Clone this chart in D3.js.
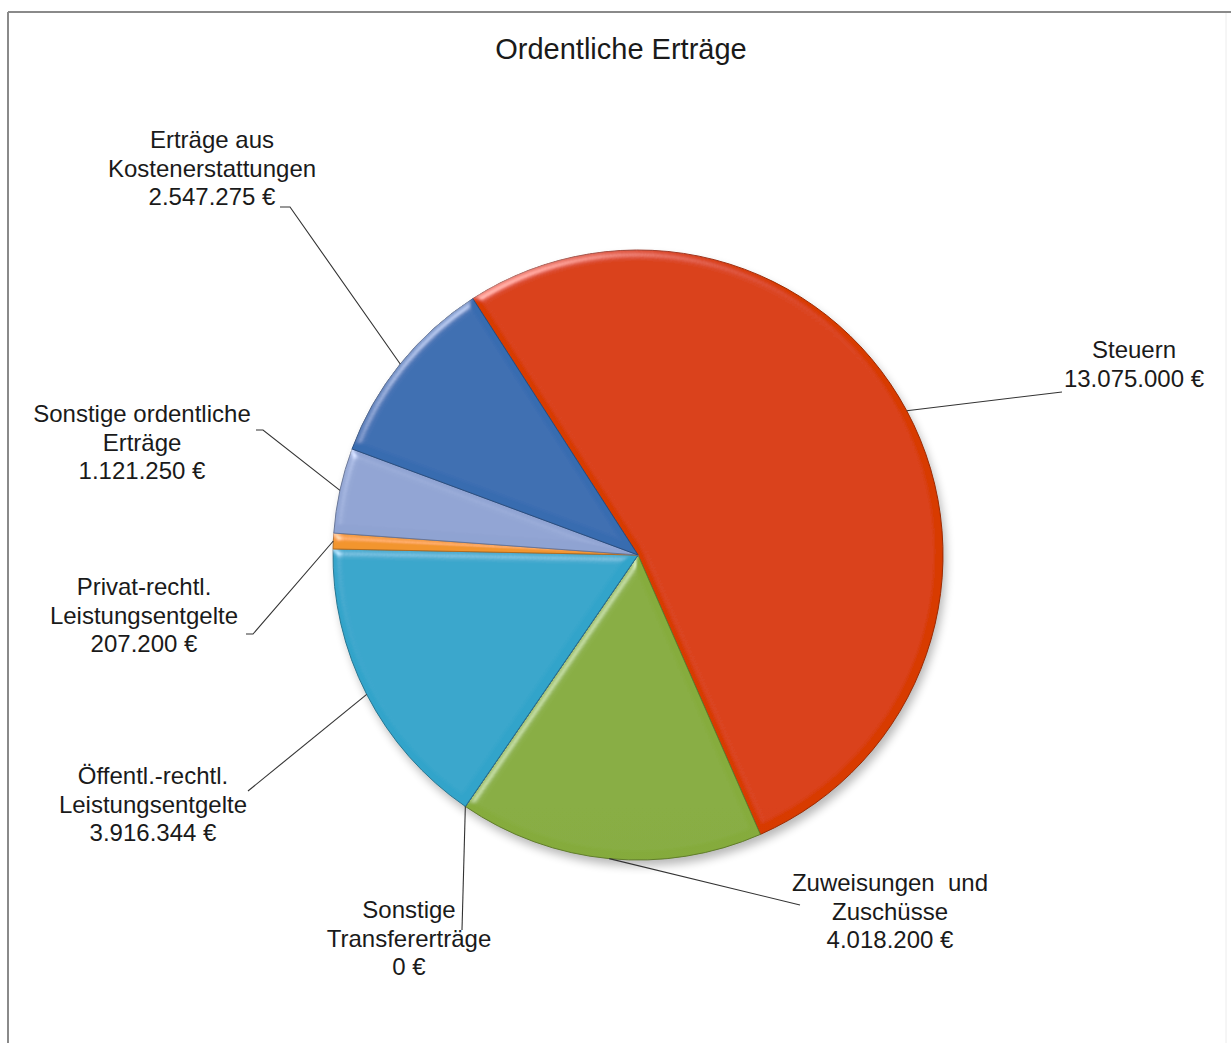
<!DOCTYPE html>
<html>
<head>
<meta charset="utf-8">
<script src="https://cdn.jsdelivr.net/npm/d3@7"></script>
<style>
    body { margin: 0; background: #fff; }
    #chart-area text { font-family: "Liberation Sans", Arial, sans-serif; fill: #1a1a1a; white-space: pre; }
</style>
</head>
<body>
<div id="chart-area"></div>
<script>
// chart values
const title = "Ordentliche Erträge";
const categories = [
    ["Steuern"],
    ["Zuweisungen  und", "Zuschüsse"],
    ["Sonstige", "Transfererträge"],
    ["Öffentl.-rechtl.", "Leistungsentgelte"],
    ["Privat-rechtl.", "Leistungsentgelte"],
    ["Sonstige ordentliche", "Erträge"],
    ["Erträge aus", "Kostenerstattungen"]
];
const values = [13075000, 4018200, 0, 3916344, 207200, 1121250, 2547275];
const colors = ["#d83a05", "#86ac3c", "#4f4fa0", "#33a4ca", "#f2952f", "#8fa3d2", "#386cb0"];

// label layout: text centre x, first baseline y, leader start (x,y), hook length
const labelLayout = [
    {x: 1134, y: 358, lx: 1062, ly: 392, hook: 0},
    {x: 890, y: 891, lx: 800, ly: 905, hook: 0},
    {x: 409, y: 918, lx: 462, ly: 930, hook: 0},
    {x: 153, y: 784, lx: 248, ly: 791, hook: 0},
    {x: 144, y: 595, lx: 246, ly: 634, hook: 7},
    {x: 142, y: 422, lx: 256, ly: 430, hook: 7},
    {x: 212, y: 148, lx: 280, ly: 207, hook: 10}
];

class PieChart {
    constructor(parentElement) {
        this.parentElement = parentElement;
        this.initVis();
    }

    initVis() {
        let vis = this;

        vis.width = 1231;
        vis.height = 1043;
        vis.cx = 638;
        vis.cy = 555;
        vis.radius = 305;

        vis.svg = d3.select("#" + vis.parentElement).append("svg")
            .attr("width", vis.width)
            .attr("height", vis.height);

        let defs = vis.svg.append("defs");

        // bevel look like the office chart
        let bevel = defs.append("filter").attr("id", "bevel")
            .attr("x", "-5%").attr("y", "-5%").attr("width", "110%").attr("height", "110%");
        bevel.append("feGaussianBlur").attr("in", "SourceAlpha").attr("stdDeviation", 4).attr("result", "blur");
        bevel.append("feSpecularLighting").attr("in", "blur").attr("surfaceScale", 4)
            .attr("specularConstant", 0.4).attr("specularExponent", 35)
            .attr("lighting-color", "#ffffff").attr("result", "spec")
            .append("feDistantLight").attr("azimuth", 235).attr("elevation", 40);
        bevel.append("feComposite").attr("in", "spec").attr("in2", "SourceAlpha")
            .attr("operator", "in").attr("result", "specIn");
        bevel.append("feComposite").attr("in", "SourceGraphic").attr("in2", "specIn")
            .attr("operator", "arithmetic").attr("k1", 0).attr("k2", 1).attr("k3", 1).attr("k4", 0);

        let shadow = defs.append("filter").attr("id", "shadow")
            .attr("x", "-10%").attr("y", "-10%").attr("width", "120%").attr("height", "120%");
        shadow.append("feGaussianBlur").attr("stdDeviation", 5);

        // gradients, top colour to a darker bottom
        colors.forEach((c, i) => {
            let g = defs.append("linearGradient").attr("id", "grad" + i)
                .attr("gradientUnits", "userSpaceOnUse")
                .attr("x1", 0).attr("y1", vis.cy - vis.radius)
                .attr("x2", 0).attr("y2", vis.cy + vis.radius);
            g.append("stop").attr("offset", "0%").attr("stop-color", c);
            g.append("stop").attr("offset", "100%").attr("stop-color", d3.color(c).darker(0.3));
        });

        // frame
        vis.svg.append("line").attr("x1", 8).attr("x2", 1231).attr("y1", 12).attr("y2", 12)
            .attr("stroke", "#8a8a8a").attr("stroke-width", 2);
        vis.svg.append("line").attr("x1", 8).attr("x2", 8).attr("y1", 12).attr("y2", vis.height)
            .attr("stroke", "#8a8a8a").attr("stroke-width", 2);
        vis.svg.append("line").attr("x1", 1226).attr("x2", 1226).attr("y1", 13).attr("y2", vis.height)
            .attr("stroke", "#ececec").attr("stroke-width", 1);

        vis.svg.append("text")
            .attr("x", 621)
            .attr("y", 59)
            .attr("text-anchor", "middle")
            .attr("font-size", 29)
            .text(title);

        vis.g = vis.svg.append("g")
            .attr("transform", "translate(" + vis.cx + "," + vis.cy + ")");

        vis.pie = d3.pie()
            .sort(null)
            .value(d => d)
            .startAngle(-32.8 * Math.PI / 180)
            .endAngle(-32.8 * Math.PI / 180 + 2 * Math.PI);

        vis.arc = d3.arc().innerRadius(0).outerRadius(vis.radius);

        vis.fmt = d3.formatLocale({decimal: ",", thousands: ".", grouping: [3], currency: ["", " €"]}).format(",.0f");

        vis.wrangleData();
    }

    wrangleData() {
        let vis = this;
        vis.displayData = vis.pie(values);
        vis.updateVis();
    }

    updateVis() {
        let vis = this;

        vis.g.append("circle")
            .attr("cx", 3).attr("cy", 6).attr("r", vis.radius)
            .attr("fill", "#000").attr("opacity", 0.28)
            .attr("filter", "url(#shadow)");

        vis.g.selectAll(".slice")
            .data(vis.displayData)
            .enter().append("path")
            .attr("class", "slice")
            .attr("d", vis.arc)
            .attr("fill", (d, i) => "url(#grad" + i + ")")
            .attr("stroke", (d, i) => d3.color(colors[i]).darker(0.9))
            .attr("stroke-width", 1)
            .attr("filter", "url(#bevel)");

        // leader lines
        vis.displayData.forEach((d, i) => {
            let a = (d.startAngle + d.endAngle) / 2;
            let px = vis.cx + vis.radius * Math.sin(a);
            let py = vis.cy - vis.radius * Math.cos(a);
            let l = labelLayout[i];
            let pts = [[l.lx, l.ly]];
            if (l.hook) pts.push([l.lx + l.hook, l.ly]);
            pts.push([px, py]);
            vis.svg.append("path")
                .attr("d", d3.line()(pts))
                .attr("fill", "none")
                .attr("stroke", "#333")
                .attr("stroke-width", 1.1);
        });

        // labels
        vis.displayData.forEach((d, i) => {
            let l = labelLayout[i];
            let lines = categories[i].concat([vis.fmt(values[i]) + " €"]);
            let t = vis.svg.append("text")
                .attr("text-anchor", "middle")
                .attr("font-size", 24);
            lines.forEach((s, j) => {
                t.append("tspan").attr("x", l.x).attr("y", l.y + j * 28.6).text(s);
            });
        });
    }
}

new PieChart("chart-area");
</script>
</body>
</html>
